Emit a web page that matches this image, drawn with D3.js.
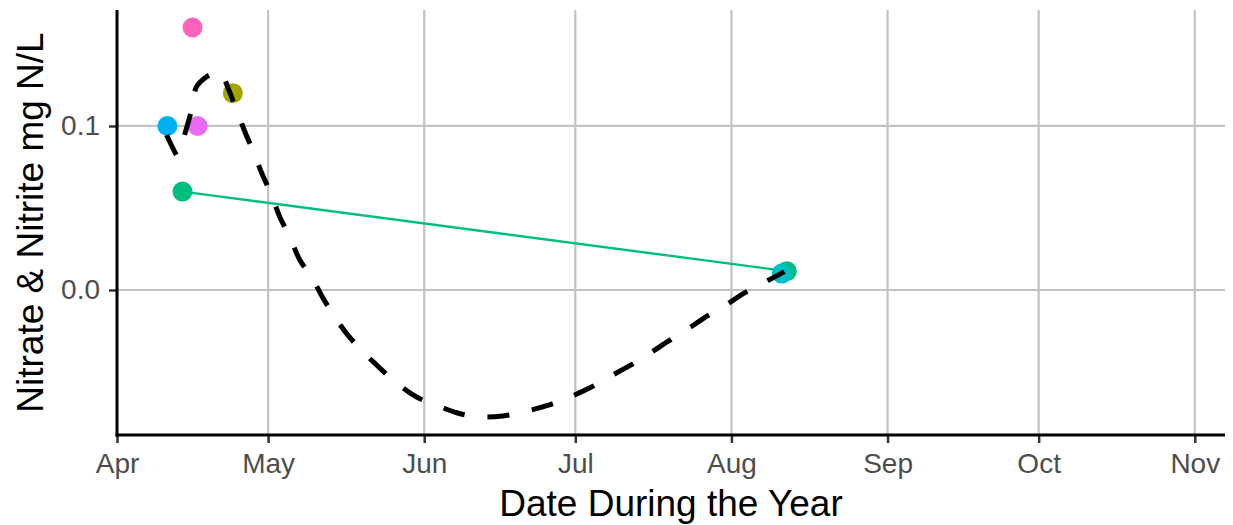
<!DOCTYPE html>
<html>
<head>
<meta charset="utf-8">
<script src="https://cdn.jsdelivr.net/npm/d3@7"></script>
<style>
  html, body { margin: 0; padding: 0; background: #ffffff; }
  svg { display: block; font-family: "Liberation Sans", Arial, Helvetica, sans-serif; }
</style>
</head>
<body>
<svg id="chart" width="1233" height="525"></svg>
<script>
// ---- data ----
const pointDates  = ["2021-04-14", "2021-08-12", "2021-04-11", "2021-04-16", "2021-04-17", "2021-04-24", "2021-08-11"];
const pointValues = [0.06, 0.0115, 0.10, 0.16, 0.10, 0.12, 0.01];
const pointGroups = ["G5", "G5", "G7", "G10", "G9", "G3", "G6"];
const groupNames  = ["G3", "G5", "G6", "G7", "G9", "G10"];
const groupColors = ["#A3A500", "#00BF7D", "#00BFC4", "#00B0F6", "#E76BF3", "#FF62BC"];

const lineDates  = ["2021-04-14", "2021-08-12"];
const lineValues = [0.06, 0.0115];

// smooth (days after Apr 1) and fitted values
const smoothDays   = [9.85, 11.7, 11.95, 13.7, 14.8, 15.8, 17.45, 19.4, 20.5, 22.2, 23.7, 25.5, 27.2, 28.9, 30.7, 32.3, 34.3, 36.3, 38.6, 40.9, 43.2, 45.8, 48.8, 52.2, 55.5, 59.4, 63.4, 67.6, 72.0, 76.6, 80.9, 85.5, 89.4, 93.8, 97.8, 101.7, 105.3, 109.3, 113.0, 117.0, 120.9, 124.6, 128.5, 132.5];
const smoothValues = [0.0945, 0.0829, 0.0820, 0.0976, 0.1098, 0.1240, 0.1293, 0.1325, 0.1330, 0.1220, 0.1098, 0.0957, 0.0835, 0.0701, 0.0579, 0.0447, 0.0325, 0.0183, 0.0081, -0.0049, -0.0163, -0.0274, -0.0376, -0.0476, -0.0567, -0.0651, -0.0701, -0.0750, -0.0773, -0.0768, -0.0742, -0.0704, -0.0659, -0.0598, -0.0529, -0.0463, -0.0396, -0.0315, -0.0244, -0.0163, -0.0091, -0.0018, 0.0045, 0.0112];

const yTicks = [0.0, 0.1];
const xDomainStart = "2021-04-01";
const xDomainEndDays = 220;
const xTickStart = "2021-04-01", xTickEnd = "2021-11-02";

const xTitle = "Date During the Year";
const yTitle = "Nitrate & Nitrite mg N/L";

// ---- chart ----
(function () {
const parse = d3.utcParse("%Y-%m-%d");
const base = parse(xDomainStart);
const dayToDate = d => new Date(base.getTime() + d * 864e5);

const svg = d3.select("#chart");
const pL = 117, pR = 1225, pT = 10, pB = 435;

const x = d3.scaleUtc().domain([base, dayToDate(xDomainEndDays)]).range([pL, pR]);
const y = d3.scaleLinear().domain([-0.0884, 0.1707]).range([pB, pT]);
const color = d3.scaleOrdinal().domain(groupNames).range(groupColors);

const xTicks = d3.utcMonth.range(parse(xTickStart), parse(xTickEnd));

// gridlines
const grid = svg.append("g");
grid.selectAll("line.vx").data(xTicks).join("line")
  .attr("x1", d => x(d)).attr("x2", d => x(d))
  .attr("y1", pT).attr("y2", pB)
  .attr("stroke", "#C2C2C2").attr("stroke-width", 2.2);
grid.selectAll("line.hy").data(yTicks).join("line")
  .attr("x1", pL).attr("x2", pR)
  .attr("y1", d => y(d)).attr("y2", d => y(d))
  .attr("stroke", "#C2C2C2").attr("stroke-width", 2.2);

// green line
const lineData = lineDates.map((d, i) => ({ date: parse(d), value: lineValues[i] }));
svg.append("path").datum(lineData)
  .attr("fill", "none").attr("stroke", color("G5")).attr("stroke-width", 2.4)
  .attr("d", d3.line().x(d => x(d.date)).y(d => y(d.value)));

// points
const pts = pointDates.map((d, i) => ({ date: parse(d), value: pointValues[i], g: pointGroups[i] }));
svg.append("g").selectAll("circle").data(pts).join("circle")
  .attr("cx", d => x(d.date)).attr("cy", d => y(d.value))
  .attr("r", 10).attr("fill", d => color(d.g));

// smooth
const smooth = smoothDays.map((d, i) => ({ date: dayToDate(d), value: smoothValues[i] }));
svg.append("path").datum(smooth)
  .attr("fill", "none").attr("stroke", "#000").attr("stroke-width", 5)
  .attr("stroke-dasharray", "22,23").attr("stroke-linecap", "butt")
  .attr("d", d3.line().curve(d3.curveCatmullRom.alpha(0.5)).x(d => x(d.date)).y(d => y(d.value)));

// axes
const xAxis = svg.append("g").attr("transform", `translate(0,${pB})`)
  .call(d3.axisBottom(x).tickValues(xTicks).tickFormat(d3.utcFormat("%b")).tickSize(8).tickPadding(10));
const yAxis = svg.append("g").attr("transform", `translate(${pL},0)`)
  .call(d3.axisLeft(y).tickValues(yTicks).tickFormat(d3.format(".1f")).tickSize(8).tickPadding(9));

[xAxis, yAxis].forEach(a => {
  a.select(".domain").remove();
  a.selectAll(".tick line").attr("stroke", "#333333").attr("stroke-width", 2.5);
  a.selectAll(".tick text").attr("fill", "#4D4D4D").attr("font-size", 28)
   .attr("font-family", "'Liberation Sans', Arial, sans-serif");
});
xAxis.selectAll(".tick text").attr("dy", "0.71em");

// axis lines
svg.append("line").attr("x1", pL).attr("x2", pL).attr("y1", pT).attr("y2", pB + 1.5)
  .attr("stroke", "#000").attr("stroke-width", 3);
svg.append("line").attr("x1", pL - 1.5).attr("x2", pR).attr("y1", pB).attr("y2", pB)
  .attr("stroke", "#000").attr("stroke-width", 3);

// titles
svg.append("text").attr("x", (pL + pR) / 2).attr("y", 516)
  .attr("text-anchor", "middle").attr("font-size", 37).attr("fill", "#000").text(xTitle);
svg.append("text").attr("transform", `translate(43,${(pT + pB) / 2}) rotate(-90)`)
  .attr("text-anchor", "middle").attr("font-size", 37).attr("fill", "#000").text(yTitle);
})();
</script>
</body>
</html>
